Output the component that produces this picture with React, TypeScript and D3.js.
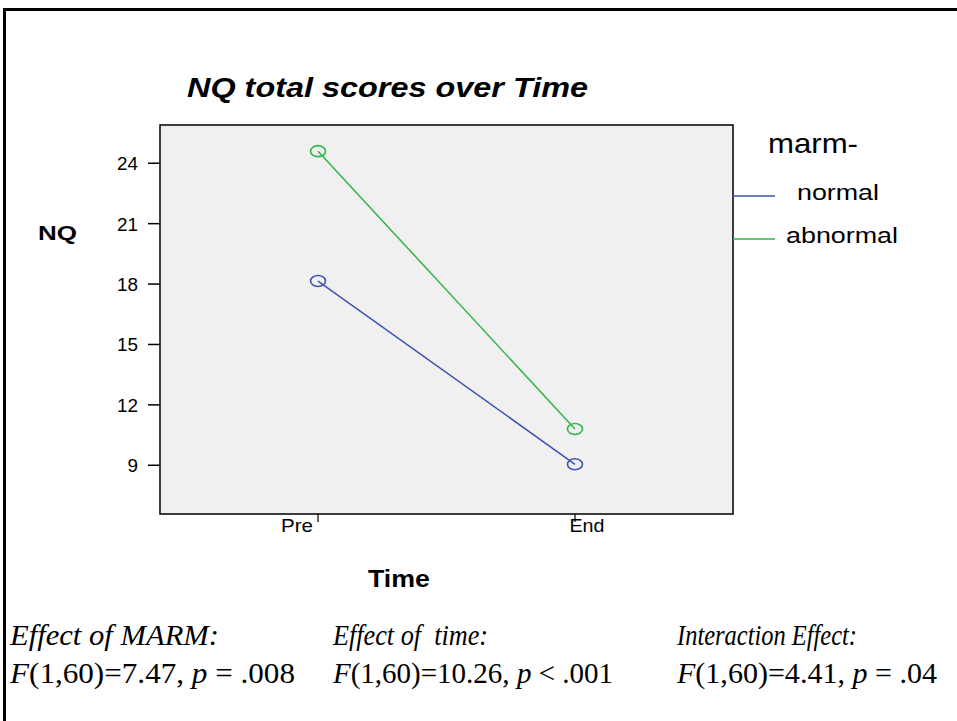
import * as d3 from 'd3';

// chart values
const timePoints = ['Pre', 'End'];
const groups = ['normal', 'abnormal'];
const normalMeans = [18.15, 9.05];
const abnormalMeans = [24.6, 10.8];
const yTicks = [9, 12, 15, 18, 21, 24];
const groupColors = ['#3d52b4', '#2fb548'];

const effectTitles = ['Effect of MARM:', 'Effect of  time:', 'Interaction Effect:'];
const effectStats = [
  { f: '(1,60)=7.47, ', rel: ' = .008' },
  { f: '(1,60)=10.26, ', rel: ' < .001' },
  { f: '(1,60)=4.41, ', rel: ' = .04' },
];

const W = 957;
const H = 721;
const plot = { left: 160, right: 733, top: 125, bottom: 514 };
const xLabelDx = [-21, 12];
const xLabelWidths = [32, 35];
const effectX = [10, 333, 677];
const titleWidths = [209, 155, 180];
const statWidths = [285, 280, 260];

const sans = 'Arial, "Liberation Sans", Helvetica, sans-serif';
const serif = '"Liberation Serif", "Times New Roman", serif';

export default function App() {
  const x = d3.scalePoint<string>().domain(timePoints).range([plot.left, plot.right]).padding(0.615);
  const y = d3.scaleLinear().domain([6.58, 25.9]).range([plot.bottom, plot.top]);

  const series = [normalMeans, abnormalMeans].map((vals, i) => ({
    name: groups[i],
    color: groupColors[i],
    points: vals.map((v, j) => ({ t: timePoints[j], v })),
  }));

  const line = d3
    .line<{ t: string; v: number }>()
    .x((d) => x(d.t) as number)
    .y((d) => y(d.v));

  const legendY = [196, 239];

  return (
    <svg width={W} height={H} style={{ position: 'absolute', left: 0, top: 0, background: '#fff' }}>
      {/* slide frame */}
      <line x1={3} x2={W} y1={9.5} y2={9.5} stroke="#000" strokeWidth={3} />
      <line x1={4.5} x2={4.5} y1={8} y2={H} stroke="#000" strokeWidth={3} />

      <text x={187} y={97} fontFamily={sans} fontSize={27} fontWeight="bold" fontStyle="italic" textLength={401} lengthAdjust="spacingAndGlyphs">
        NQ total scores over Time
      </text>

      <rect
        x={plot.left}
        y={plot.top}
        width={plot.right - plot.left}
        height={plot.bottom - plot.top}
        fill="#f0f0f0"
        stroke="#000"
        strokeWidth={1.5}
      />

      {/* y axis */}
      {yTicks.map((t) => (
        <g key={t}>
          <line x1={plot.left - 12} x2={plot.left} y1={y(t)} y2={y(t)} stroke="#000" strokeWidth={1.5} />
          <text
            x={138}
            y={y(t) + 7}
            textAnchor="end"
            fontFamily={sans}
            fontSize={18}
            textLength={String(t).length * 10.5}
            lengthAdjust="spacingAndGlyphs"
          >
            {t}
          </text>
        </g>
      ))}
      <text x={38} y={240} fontFamily={sans} fontSize={21} fontWeight="bold" textLength={39} lengthAdjust="spacingAndGlyphs">
        NQ
      </text>

      {/* x axis */}
      {timePoints.map((t, i) => (
        <g key={t}>
          <line x1={x(t)} x2={x(t)} y1={plot.bottom} y2={plot.bottom + 8} stroke="#000" strokeWidth={1.2} />
          <text
            x={(x(t) as number) + xLabelDx[i]}
            y={532}
            textAnchor="middle"
            fontFamily={sans}
            fontSize={19}
            textLength={xLabelWidths[i]}
            lengthAdjust="spacingAndGlyphs"
          >
            {t}
          </text>
        </g>
      ))}
      <text x={368} y={587} fontFamily={sans} fontSize={23} fontWeight="bold" textLength={62} lengthAdjust="spacingAndGlyphs">
        Time
      </text>

      {/* lines and markers */}
      {series.map((s) => (
        <g key={s.name}>
          <path d={line(s.points) || ''} fill="none" stroke={s.color} strokeWidth={1.5} />
          {s.points.map((p) => (
            <ellipse key={p.t} cx={x(p.t)} cy={y(p.v)} rx={7.5} ry={5.5} fill="none" stroke={s.color} strokeWidth={1.6} />
          ))}
        </g>
      ))}

      {/* legend */}
      <text x={768} y={153} fontFamily={sans} fontSize={28} textLength={90} lengthAdjust="spacingAndGlyphs">
        marm-
      </text>
      {series.map((s, i) => (
        <g key={s.name}>
          <line x1={plot.right} x2={775} y1={legendY[i]} y2={legendY[i]} stroke={s.color} strokeWidth={1.5} />
          <text
            x={s.name === 'normal' ? 797 : 786}
            y={legendY[i] + 4}
            fontFamily={sans}
            fontSize={22}
            textLength={s.name === 'normal' ? 82 : 112}
            lengthAdjust="spacingAndGlyphs"
          >
            {s.name}
          </text>
        </g>
      ))}

      {/* ANOVA results */}
      {effectTitles.map((t, i) => (
        <g key={t} fontFamily={serif} fontSize={30}>
          <text x={effectX[i]} y={645} fontStyle="italic" textLength={titleWidths[i]} lengthAdjust="spacingAndGlyphs" style={{ whiteSpace: 'pre' }}>
            {t}
          </text>
          <text x={effectX[i]} y={683} textLength={statWidths[i]} lengthAdjust="spacingAndGlyphs">
            <tspan fontStyle="italic">F</tspan>
            <tspan>{effectStats[i].f}</tspan>
            <tspan fontStyle="italic">p</tspan>
            <tspan>{effectStats[i].rel}</tspan>
          </text>
        </g>
      ))}
    </svg>
  );
}
